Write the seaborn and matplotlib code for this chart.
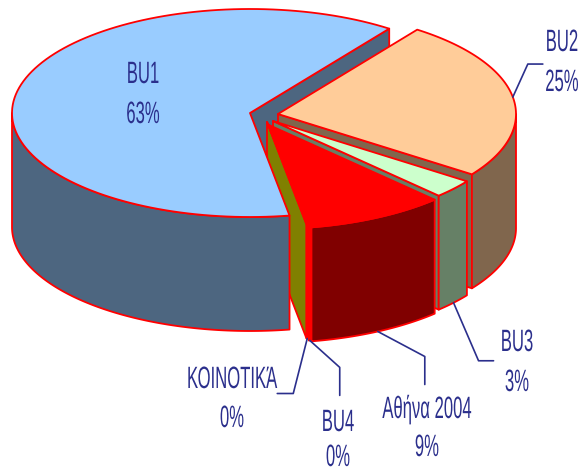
import numpy as np
import matplotlib
matplotlib.use("Agg")
import matplotlib.pyplot as plt
import matplotlib.patheffects as pe
from matplotlib.transforms import Affine2D
import seaborn as sns

# Data, counter-clockwise starting from BU1
categories = ["BU1", "ΚΟΙΝΟΤΙΚΆ", "BU4", "Αθήνα 2004", "BU3", "BU2"]
values = [62.6, 0.1, 0.1, 9.4, 2.9, 24.9]
top_colors = ["#99CCFF", "#FFFF00", "#FF0000", "#FF0000", "#CCFFCC", "#FFCC99"]

# Layout, all in pixels of the 582x470 picture
slice_centers = [(250, 113), (267, 122), (268, 124), (269, 125), (273, 121), (278, 114)]
start_angle = 54.2
rx, ry = 238, 104
depth = 114
label_pos = [(143, 83, 123), (232, 388, 427), (338, 431, 466),
             (427, 418, 456), (517, 351, 391), (562, 51, 91)]
# leader line: elbow offsets from the anchor on the rim
leaders = [None,
           [(-14, 55), (-30, 55)],
           [(30, 27), (30, 55)],
           [(47, 25), (47, 53)],
           [(25, 58), (40, 58)],
           [(15, -33), (30, -33)]]

sns.set_theme(style="white")
plt.rcParams['font.family'] = ['Liberation Sans', 'DejaVu Sans']
palette = sns.color_palette(top_colors)
side_colors = [tuple(np.array(c) * 0.5) for c in palette]
edge = "#FF0000"
text_color = "#2B2F8C"


class TallText(pe.AbstractPathEffect):
    # reference text is squeezed, so stretch the glyphs upward from the baseline
    def __init__(self, sy):
        super().__init__()
        self.sy = sy

    def draw_path(self, renderer, gc, tpath, affine, rgbFace=None):
        renderer.draw_path(gc, tpath, Affine2D().scale(1, self.sy) + affine, rgbFace)


fig, ax = plt.subplots(figsize=(5.82, 4.7), dpi=100)
ax.set_position([0, 0, 1, 1])
ax.set_xlim(0, 582)
ax.set_ylim(470, 0)
ax.axis("off")

# slice angles come from the values
shares = np.array(values) / sum(values) * 360
starts = start_angle + np.concatenate([[0], np.cumsum(shares)[:-1]])
ends = starts + shares


def rim(i, a, b, n=120):
    t = np.radians(np.linspace(a, b, n))
    cx, cy = slice_centers[i]
    return cx + rx * np.cos(t), cy - ry * np.sin(t)


def draw_poly(x, y, color, z):
    ax.fill(x, y, facecolor=color, edgecolor=edge, linewidth=1.3, joinstyle="round", zorder=z)


def draw_cut(i, z):
    # flat face on the start edge of the slice
    cx, cy = slice_centers[i]
    ex, ey = rim(i, starts[i], starts[i], 1)
    draw_poly([cx, ex[0], ex[0], cx], [cy, ey[0], ey[0] + depth, cy + depth], side_colors[i], z)


def draw_side(i, z):
    # outer wall, only the part that faces the viewer
    a = max(starts[i], 180)
    b = min(ends[i], 360)
    x, y = rim(i, a, b)
    draw_poly(np.r_[x, x[::-1]], np.r_[y, y[::-1] + depth], side_colors[i], z)


def draw_top(i, z):
    cx, cy = slice_centers[i]
    x, y = rim(i, starts[i], ends[i])
    draw_poly(np.r_[cx, x], np.r_[cy, y], palette[i], z)


# back to front: BU1 cut face first, BU1 wall and top last
draw_cut(0, 1)
z = 2
for i in [5, 4, 3, 2, 1]:
    draw_cut(i, z)
    draw_side(i, z + 1)
    draw_top(i, z + 2)
    z += 3
draw_side(0, z)
draw_top(0, z + 1)

for i, name in enumerate(categories):
    lx, ny, py = label_pos[i]
    for s, ty in [(name, ny), (f"{round(values[i])}%", py)]:
        ax.text(lx, ty, s, color=text_color, fontsize=12, ha="center", va="baseline", zorder=40,
                path_effects=[TallText(1.85)])
    if leaders[i] is None:
        continue
    mid = (starts[i] + ends[i]) / 2
    ax_x, ax_y = rim(i, mid, mid, 1)
    # wall bottom for the front slices, rim for BU2
    anchor_y = ax_y[0] + (depth if np.sin(np.radians(mid)) < -0.3 else 0)
    xs = [ax_x[0]] + [ax_x[0] + d[0] for d in leaders[i]]
    ys = [anchor_y] + [anchor_y + d[1] for d in leaders[i]]
    sns.lineplot(x=xs, y=ys, sort=False, estimator=None, color=text_color, linewidth=1.2, ax=ax, zorder=39)

fig.savefig("out.png", dpi=100)
